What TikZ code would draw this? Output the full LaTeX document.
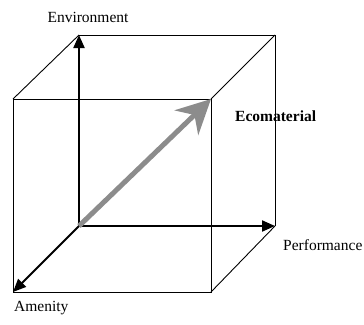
\documentclass[tikz,border=0pt]{standalone}
\usepackage{fontspec}
\setmainfont{Liberation Serif}
\usetikzlibrary{positioning, arrows.meta}

\begin{document}
\begin{tikzpicture}[x=1pt, y=-1pt, >=Triangle,
          edge/.style={line width=0.9pt},
          axis/.style={->, line width=2pt, >={Triangle[length=13pt, width=11pt]}},
          eco/.style={line width=5pt, draw={rgb,255:red,140;green,140;blue,140},
                      -{Stealth[length=34pt, width=34pt, inset=11pt]}},
          lbl/.style={font=\fontsize{15.5}{18}\selectfont, inner sep=0pt}
        ]
        \useasboundingbox (0,0) rectangle (364,324);
        % back face
        \coordinate (O)  at (79,226);
        \coordinate (bt) at (79,35);
        \coordinate (br) at (275,226);
        \coordinate (bc) at (275,35);
        % front face
        \coordinate (ft) at (13,99);
        \coordinate (fc) at (211,99);
        \coordinate (fb) at (13,292);
        \coordinate (fr) at (211,292);

        % cube edges
        \draw[edge] (bt) -- (bc) -- (br);
        \draw[edge] (ft) -- (fc) -- (fr) -- (fb) -- cycle;
        \draw[edge] (bt) -- (ft);
        \draw[edge] (bc) -- (fc);
        \draw[edge] (br) -- (fr);

        % axes
        \draw[axis] (O) -- (bt);
        \draw[axis] (O) -- (br);
        \draw[axis] (O) -- (fb);
        \draw[eco]  (O) -- (fc);

        % labels
        \node[lbl] (env)  at (88,17)            {Environment};
        \node[lbl, anchor=west] (ecom) at (235,116)  {\bfseries Ecomaterial};
        \node[lbl, anchor=west] (perf) at (283,245)  {Performance};
        \node[lbl, anchor=west] (amen) at (14,308)   {Amenity};
      \end{tikzpicture}
\end{document}
